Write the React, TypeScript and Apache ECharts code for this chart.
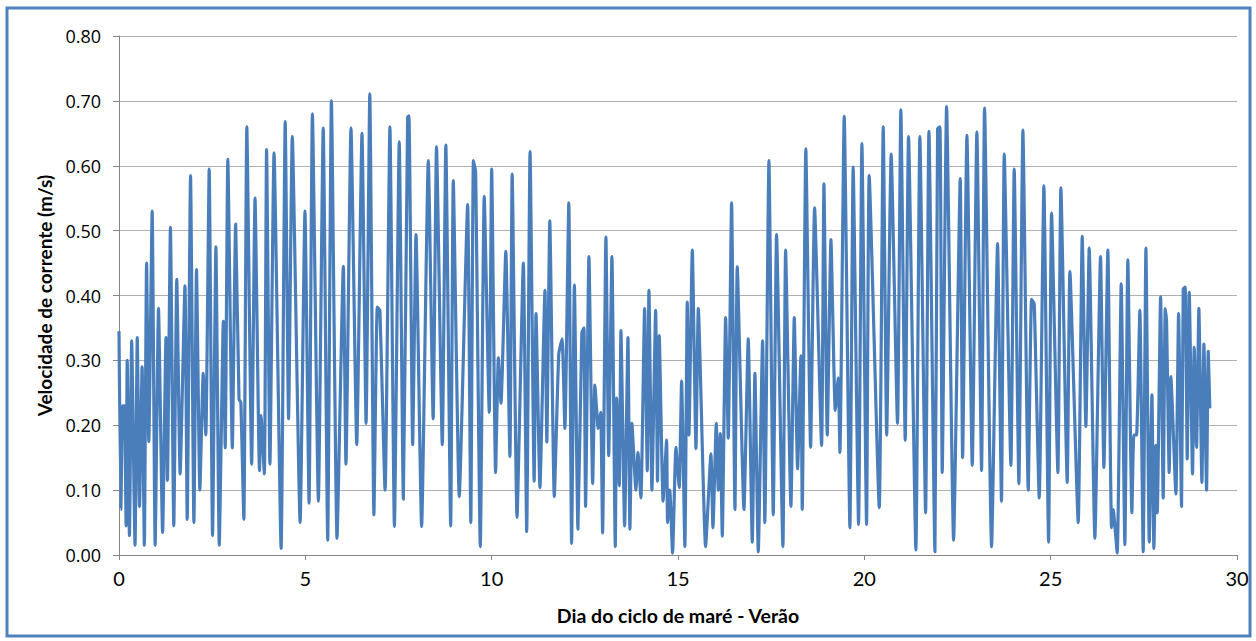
import React, { useEffect, useRef } from "react";
import * as echarts from "echarts";

// Current speed (m/s) versus tidal-cycle day — extremes
const week1: [number, number][] = [
  [0, 0.345], [0.05, 0.07], [0.10, 0.23], [0.15, 0.23], [0.19, 0.045], [0.22, 0.30], [0.28, 0.03],
  [0.34, 0.33], [0.43, 0.015], [0.49, 0.335], [0.55, 0.075], [0.62, 0.29], [0.68, 0.015], [0.74, 0.45],
  [0.80, 0.175], [0.89, 0.53], [0.97, 0.015], [1.06, 0.38], [1.17, 0.035], [1.26, 0.335], [1.30, 0.115],
  [1.38, 0.505], [1.47, 0.045], [1.55, 0.425], [1.64, 0.125], [1.77, 0.415], [1.83, 0.055], [1.92, 0.585],
  [2.01, 0.05], [2.08, 0.44], [2.17, 0.10], [2.26, 0.28], [2.33, 0.185], [2.42, 0.595], [2.51, 0.03],
  [2.60, 0.475], [2.69, 0.015], [2.80, 0.36], [2.85, 0.165], [2.92, 0.61], [3.04, 0.165], [3.13, 0.51],
  [3.22, 0.24], [3.27, 0.235], [3.35, 0.055], [3.43, 0.66], [3.56, 0.14], [3.65, 0.55], [3.77, 0.13],
  [3.81, 0.215], [3.90, 0.125], [3.96, 0.625], [4.05, 0.14], [4.16, 0.62], [4.35, 0.01], [4.46, 0.668],
  [4.55, 0.21], [4.65, 0.645], [4.86, 0.05], [4.99, 0.53], [5.10, 0.08], [5.19, 0.68], [5.35, 0.083],
  [5.48, 0.658], [5.60, 0.023], [5.70, 0.70], [5.85, 0.026], [6.02, 0.445], [6.09, 0.14], [6.225, 0.658],
  [6.38, 0.17], [6.52, 0.65], [6.63, 0.203], [6.73, 0.711], [6.84, 0.062], [6.93, 0.382], [7.00, 0.377],
];

const week2: [number, number][] = [
  [7.14, 0.10], [7.27, 0.66], [7.39, 0.044], [7.52, 0.637], [7.63, 0.086], [7.745, 0.675], [7.78, 0.677],
  [7.88, 0.17], [7.97, 0.494], [8.12, 0.044], [8.30, 0.608], [8.43, 0.21], [8.52, 0.629], [8.675, 0.17],
  [8.77, 0.632], [8.90, 0.045], [8.97, 0.577], [9.13, 0.09], [9.355, 0.54], [9.44, 0.05], [9.51, 0.608],
  [9.57, 0.59], [9.695, 0.013], [9.80, 0.553], [9.935, 0.22], [10.0, 0.595], [10.105, 0.127], [10.18, 0.304],
  [10.25, 0.234], [10.38, 0.468], [10.49, 0.152], [10.55, 0.587], [10.68, 0.058], [10.85, 0.45], [10.94, 0.036],
  [11.03, 0.622], [11.14, 0.114], [11.19, 0.372], [11.295, 0.104], [11.43, 0.408], [11.48, 0.174], [11.56, 0.515],
  [11.68, 0.09], [11.80, 0.31], [11.89, 0.333], [11.965, 0.195], [12.07, 0.543], [12.145, 0.018], [12.22, 0.416],
  [12.315, 0.04], [12.42, 0.343], [12.476, 0.35], [12.52, 0.075], [12.61, 0.46], [12.71, 0.11], [12.77, 0.262],
  [12.86, 0.195], [12.925, 0.22], [12.977, 0.034], [13.066, 0.49], [13.14, 0.153], [13.227, 0.46], [13.317, 0.013],
  [13.353, 0.242], [13.424, 0.107], [13.469, 0.346], [13.567, 0.045], [13.657, 0.335], [13.71, 0.04], [13.764, 0.203],
  [13.871, 0.10], [13.925, 0.158],
];

const week3: [number, number][] = [
  [14.005, 0.088], [14.104, 0.38], [14.175, 0.13], [14.22, 0.408], [14.30, 0.10], [14.40, 0.377], [14.45, 0.114],
  [14.497, 0.338], [14.60, 0.083], [14.694, 0.177], [14.72, 0.05], [14.78, 0.10], [14.854, 0.003], [14.944, 0.166],
  [15.033, 0.104], [15.096, 0.268], [15.185, 0.013], [15.248, 0.39], [15.294, 0.185], [15.384, 0.47], [15.482, 0.164],
  [15.545, 0.38], [15.741, 0.013], [15.884, 0.156], [15.938, 0.042], [16.027, 0.203], [16.081, 0.10], [16.135, 0.187],
  [16.188, 0.029], [16.278, 0.366], [16.349, 0.18], [16.438, 0.543], [16.528, 0.07], [16.59, 0.444], [16.77, 0.07],
  [16.885, 0.333], [16.993, 0.02], [17.064, 0.28], [17.154, 0.005], [17.27, 0.33], [17.33, 0.05], [17.44, 0.608],
  [17.556, 0.062], [17.645, 0.494], [17.815, 0.013], [17.887, 0.47], [18.03, 0.075], [18.12, 0.366], [18.209, 0.133],
  [18.298, 0.307], [18.334, 0.07], [18.43, 0.626], [18.558, 0.166], [18.665, 0.535], [18.853, 0.169], [18.916, 0.572],
  [19.005, 0.185], [19.104, 0.486], [19.22, 0.223], [19.30, 0.273], [19.345, 0.158], [19.46, 0.676], [19.613, 0.042],
  [19.70, 0.598], [19.845, 0.047], [19.935, 0.634], [20.06, 0.047], [20.13, 0.585], [20.40, 0.073], [20.507, 0.66],
  [20.60, 0.185], [20.72, 0.618], [20.89, 0.203], [20.98, 0.686],
];

const week4: [number, number][] = [
  [21.097, 0.177], [21.186, 0.645], [21.383, 0.008], [21.49, 0.645], [21.644, 0.065], [21.733, 0.653], [21.894, 0.005],
  [21.966, 0.657], [22.03, 0.66], [22.09, 0.127], [22.207, 0.691], [22.395, 0.023], [22.574, 0.58], [22.637, 0.15],
  [22.753, 0.647], [22.896, 0.138], [23.02, 0.652], [23.146, 0.13], [23.226, 0.689], [23.414, 0.013], [23.575, 0.48],
  [23.68, 0.083], [23.754, 0.618], [23.933, 0.138], [24.022, 0.595], [24.147, 0.11], [24.255, 0.655], [24.398, 0.10],
  [24.487, 0.394], [24.559, 0.387], [24.693, 0.088], [24.818, 0.569], [24.944, 0.02], [25.024, 0.527], [25.194, 0.127],
  [25.274, 0.566], [25.444, 0.112], [25.516, 0.437], [25.739, 0.05], [25.847, 0.491], [25.945, 0.198], [26.034, 0.473],
  [26.186, 0.026], [26.338, 0.46], [26.428, 0.135], [26.535, 0.47], [26.633, 0.042], [26.678, 0.07], [26.785, 0.003],
  [26.893, 0.418], [26.991, 0.016], [27.071, 0.455], [27.179, 0.065], [27.232, 0.185], [27.304, 0.185], [27.393, 0.377],
  [27.483, 0.005], [27.556, 0.473], [27.645, 0.02], [27.717, 0.247], [27.77, 0.01], [27.824, 0.169], [27.86, 0.065],
  [27.95, 0.398], [28.02, 0.088], [28.074, 0.38], [28.11, 0.36], [28.18, 0.127], [28.226, 0.275], [28.36, 0.094],
  [28.432, 0.372], [28.512, 0.075], [28.557, 0.41], [28.61, 0.413], [28.664, 0.148], [28.718, 0.405], [28.807, 0.125],
  [28.852, 0.32], [28.915, 0.166], [28.977, 0.38], [29.058, 0.112], [29.112, 0.325], [29.183, 0.10], [29.228, 0.314],
  [29.27, 0.226],
];

const xTitle = "Dia do ciclo de maré - Verão";
const yTitle = "Velocidade de corrente (m/s)";

export default function App() {
  const ref = useRef<HTMLDivElement>(null);
  useEffect(() => {
    if (!ref.current) return;
    const chart = echarts.init(ref.current, undefined, { renderer: "svg" });
    const data = [...week1, ...week2, ...week3, ...week4];
    chart.setOption({
      animation: false,
      backgroundColor: "#ffffff",
      grid: { left: 119, right: 19, top: 36, bottom: 86, containLabel: false },
      graphic: [
        {
          type: "rect",
          shape: { x: 7, y: 8, width: 1243, height: 628 },
          style: { fill: "none", stroke: "#4f81bd", lineWidth: 3 },
          z: 100,
        },
      ],
      xAxis: {
        type: "value",
        min: 0,
        max: 30,
        interval: 5,
        name: xTitle,
        nameLocation: "middle",
        nameGap: 50,
        nameTextStyle: { fontFamily: "Lato", fontWeight: "bold", fontSize: 19.5, color: "#000" },
        axisLine: { show: true, lineStyle: { color: "#868686", width: 1 } },
        axisTick: { show: true, inside: false, length: 5, lineStyle: { color: "#868686" } },
        axisLabel: { fontFamily: "Lato", fontSize: 20, color: "#000", margin: 13 },
        splitLine: { show: false },
      },
      yAxis: {
        type: "value",
        min: 0,
        max: 0.8,
        interval: 0.1,
        name: yTitle,
        nameLocation: "middle",
        nameGap: 64,
        nameTextStyle: { fontFamily: "Lato", fontWeight: "bold", fontSize: 19, color: "#000" },
        axisLine: { show: true, lineStyle: { color: "#868686", width: 1 } },
        axisTick: { show: true, inside: false, length: 6, lineStyle: { color: "#868686" } },
        axisLabel: {
          fontFamily: "Open Sans",
          fontSize: 18,
          color: "#000",
          margin: 18,
          formatter: (v: number) => v.toFixed(2),
        },
        splitLine: { show: true, lineStyle: { color: "#b0b0b0", width: 1 } },
      },
      series: [
        {
          type: "line",
          data,
          showSymbol: false,
          symbol: "none",
          smooth: 0.15,
          lineStyle: { color: "#4a7ebb", width: 3.2, join: "round" },
        },
      ],
    });
    return () => chart.dispose();
  }, []);
  return (
    <div
      ref={ref}
      style={{ position: "fixed", left: 0, top: 0, width: 1256, height: 641, background: "#fff" }}
    />
  );
}
